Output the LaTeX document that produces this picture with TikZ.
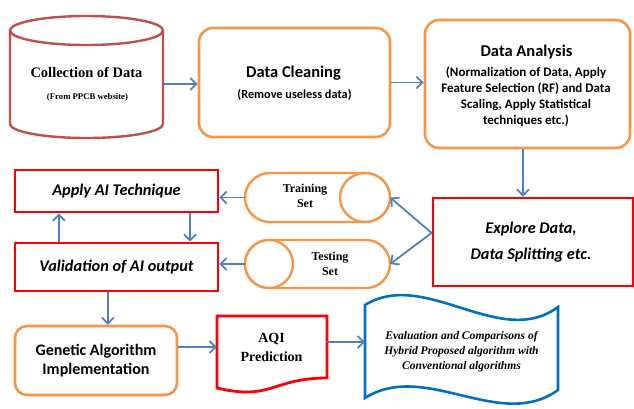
\documentclass[tikz,border=0pt]{standalone}
\usepackage{fontspec}
\newfontfamily\calfont{Carlito}
\newfontfamily\tnrfont{Liberation Serif}
\usetikzlibrary{arrows.meta,calc}
\definecolor{orng}{RGB}{247,150,70}
\definecolor{cylred}{RGB}{192,80,77}
\definecolor{arrblue}{RGB}{79,129,189}
\definecolor{evblue}{RGB}{0,112,192}
\tikzset{
  obox/.style={draw=orng, line width=2.6pt, rounded corners=14pt, inner sep=0pt, fill=white},
  rbox/.style={draw=red, line width=2.8pt, inner sep=0pt, fill=white},
  ghost/.style={inner sep=0pt, rectangle},
  orngline/.style={draw=orng, line width=2.4pt, fill=white},
  arr/.style={draw=arrblue, line width=1.8pt, -{Straight Barb[length=6pt,width=12pt]}},
  sanst/.style={font=\calfont\bfseries\fontsize{16.5}{20}\selectfont, align=center},
  sanss/.style={font=\calfont\bfseries\fontsize{12.3}{15}\selectfont, align=center},
  sansa/.style={font=\calfont\bfseries\fontsize{13}{15.7}\selectfont, align=center},
  sansi/.style={font=\calfont\bfseries\itshape\fontsize{16.3}{26}\selectfont, align=center},
  sansg/.style={font=\calfont\bfseries\fontsize{16}{19.5}\selectfont, align=center},
  serft/.style={font=\tnrfont\bfseries\fontsize{14.5}{18}\selectfont, align=center},
  serfs/.style={font=\tnrfont\bfseries\fontsize{8.7}{10}\selectfont, align=center},
  serfm/.style={font=\tnrfont\bfseries\fontsize{12}{14.5}\selectfont, align=center},
  serfq/.style={font=\tnrfont\bfseries\fontsize{14}{19}\selectfont, align=center},
  serfe/.style={font=\tnrfont\bfseries\itshape\fontsize{11.6}{15}\selectfont, align=center},
}
\begin{document}
\begin{tikzpicture}[x=1pt,y=-1pt]
\useasboundingbox (0,0) rectangle (634,408);
\fill[white] (0,0) rectangle (634,408);

% Collection cylinder
\draw[draw=cylred, line width=2.4pt, fill=white] (10,30.5) -- (10,124)
  arc[start angle=180, end angle=0, x radius=76.5, y radius=14] -- (163,30.5);
\draw[draw=cylred, line width=2.4pt, fill=white] (86.5,30.5) ellipse [x radius=76.5, y radius=14.5];
\node[ghost, minimum width=153, minimum height=122] (coll) at (86.5,77) {};
\node[serft] (collT) at (86.5,72) {Collection of Data};
\node[serfs] (collS) at (87.5,97.5) {(From PPCB website)};

% Data cleaning
\node[obox, minimum width=191, minimum height=109] (clean) at (294.5,82.5) {};
\node[sanst] (cleanT) at (293.5,73) {Data Cleaning};
\node[sanss] (cleanS) at (294.5,95) {(Remove useless data)};

% Data analysis
\node[obox, minimum width=205, minimum height=128] (anal) at (527.5,84) {};
\node[sanst] (analT) at (526.5,52) {Data Analysis};
\node[sansa] (analS) at (526,96.7) {(Normalization of Data, Apply\\Feature Selection (RF) and Data\\Scaling, Apply Statistical\\techniques etc.)};

% Explore
\node[rbox, minimum width=200, minimum height=88] (explore) at (533,242) {};
\node[sansi] (exploreT) at (531,242) {Explore Data,\\Data Splitting etc.};

% Training set
\draw[orngline] (270,173) -- (365,173)
  arc[start angle=-90, end angle=90, x radius=25, y radius=24.5] -- (270,222)
  arc[start angle=90, end angle=270, x radius=25, y radius=24.5] -- cycle;
\draw[orngline] (365,197.5) ellipse [x radius=25, y radius=24.5];
\node[ghost, minimum width=145, minimum height=49] (train) at (317.5,197.5) {};
\node[serfm] (trainT) at (305,196) {Training\\Set};

% Testing set
\draw[orngline] (269,240) -- (366,240)
  arc[start angle=-90, end angle=90, x radius=24, y radius=24] -- (269,288)
  arc[start angle=90, end angle=270, x radius=24, y radius=24] -- cycle;
\draw[orngline] (269,264) ellipse [x radius=24, y radius=24];
\node[ghost, minimum width=145, minimum height=48] (test) at (317.5,264) {};
\node[serfm] (testT) at (330,264) {Testing\\Set};

% Apply / Validation
\node[rbox, minimum width=203, minimum height=42, sansi] (apply) at (116.5,191) {Apply AI Technique};
\node[rbox, minimum width=203, minimum height=48, sansi] (valid) at (116.5,267) {Validation of AI output};

% Genetic
\node[obox, rounded corners=12pt, minimum width=162, minimum height=69, sansg] (gen) at (96,360.5) {Genetic Algorithm\\Implementation};

% AQI document
\draw[draw=red, line width=2.8pt, fill=white] (217,316) -- (327,316) -- (327,378)
  .. controls (272,378) and (272,401) .. (217,388) -- cycle;
\node[ghost, minimum width=110, minimum height=52] (aqi) at (272,342) {};
\node[serfq] (aqiT) at (271.5,347) {AQI\\Prediction};

% Evaluation wave
\draw[draw=evblue, line width=2.6pt, fill=white] (365,305)
  .. controls (425,268) and (500,350) .. (558,307) -- (558,390)
  .. controls (500,432) and (425,360) .. (365,398) -- cycle;
\node[ghost, minimum width=193, minimum height=80] (eval) at (461.5,350) {};
\node[serfe] (evalT) at (461.5,352) {Evaluation and Comparisons of\\Hybrid Proposed algorithm with\\Conventional algorithms};

% Connectors
\coordinate (c1) at (coll.east |- 0,84);
\draw[arr] (c1) -- (c1 -| clean.west);
\draw[arr] (clean.east) -- (clean.east -| anal.west);
\coordinate (c2) at (anal.south -| 523,0);
\draw[arr] (c2) -- (c2 |- explore.north);
\coordinate (split) at ($(explore.north west)!0.4!(explore.south west)$);
\draw[arr] (split) -- (train.east);
\draw[arr] (split) -- (test.east);
\draw[arr] (train.west) -- (train.west -| apply.east);
\draw[arr] (test.west) -- (test.west -| valid.east);
\coordinate (vu) at ($(valid.north west)!0.22!(valid.north east)$);
\draw[arr] (vu) -- (vu |- apply.south);
\coordinate (ad) at ($(apply.south west)!0.857!(apply.south east)$);
\draw[arr] (ad) -- (ad |- valid.north);
\coordinate (vg) at ($(valid.south west)!0.458!(valid.south east)$);
\draw[arr] (vg) -- (vg |- gen.north);
\draw[arr] (gen.east |- aqiT) -- (aqi.west |- aqiT);
\draw[arr] (aqi.east) -- (aqi.east -| eval.west);
\end{tikzpicture}
\end{document}
